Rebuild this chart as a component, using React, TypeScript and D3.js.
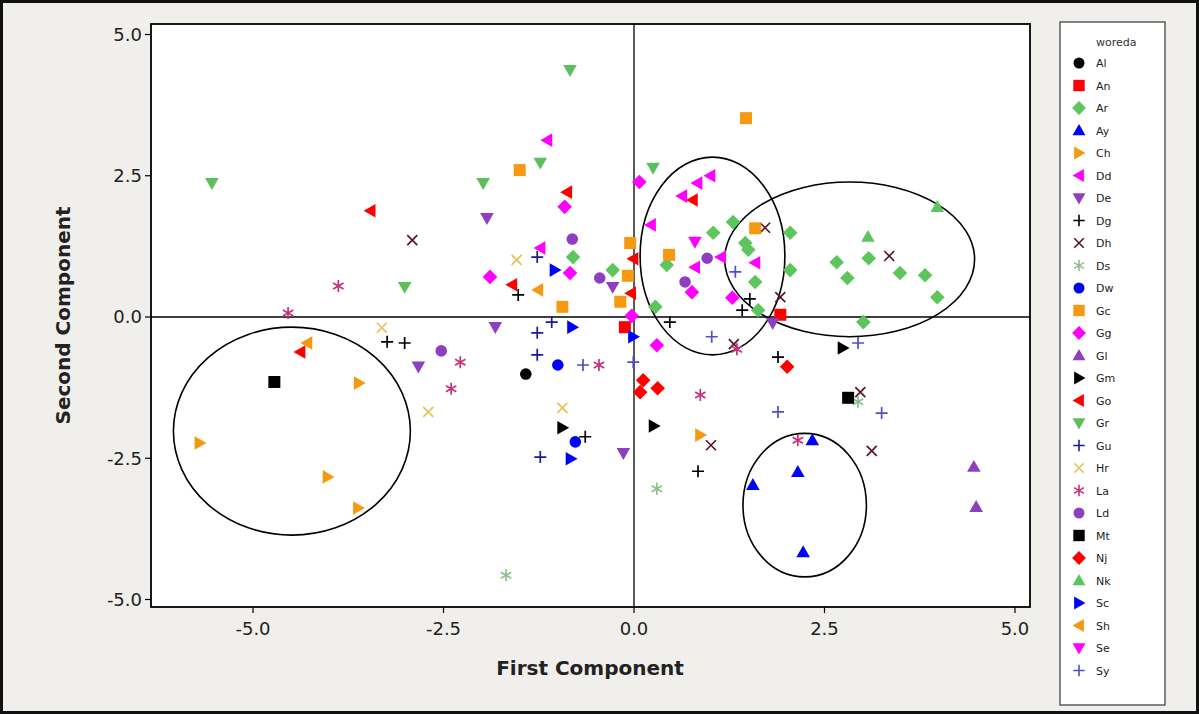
import React from "react";
import * as d3 from "d3";

// ---- data (First Component, Second Component) ----
const Al = [[-1.42, -1.01]];
const An = [[1.92, 0.04], [-0.12, -0.18]];
const Ar = [[1.04, 1.49], [1.30, 1.68], [1.46, 1.31], [1.50, 1.19], [2.05, 1.49], [2.05, 0.83], [1.59, 0.62], [1.63, 0.12], [2.66, 0.97], [3.08, 1.04], [2.80, 0.69], [3.49, 0.78], [3.82, 0.74], [3.98, 0.35], [3.01, -0.09], [-0.80, 1.06], [-0.28, 0.83], [0.43, 0.92], [0.28, 0.18]];
const Ay = [[2.34, -2.18], [2.15, -2.74], [1.56, -2.97], [2.22, -4.16]];
const Ch = [[-3.61, -1.17], [-5.70, -2.23], [-4.02, -2.83], [-3.62, -3.38], [0.87, -2.09]];
const Dd = [[-1.14, 3.13], [-1.23, 1.22], [0.22, 1.63], [1.00, 2.50], [0.83, 2.37], [0.63, 2.14], [0.80, 0.88], [1.14, 1.06], [1.59, 0.96]];
const De = [[-1.93, 1.75], [-2.83, -0.88], [-1.82, -0.18], [-0.28, 0.53], [1.82, -0.11], [-0.14, -2.41]];
const Dg = [[-3.24, -0.44], [-3.01, -0.46], [-1.52, 0.39], [-0.64, -2.12], [0.84, -2.73], [1.52, 0.32], [1.42, 0.12], [1.89, -0.71], [0.47, -0.09]];
const Dh = [[-2.91, 1.36], [1.72, 1.58], [3.35, 1.08], [1.92, 0.35], [1.31, -0.48], [2.97, -1.33], [1.01, -2.27], [3.12, -2.37]];
const Ds = [[2.94, -1.50], [0.30, -3.04], [-1.68, -4.57]];
const Dw = [[-1.00, -0.85], [-0.77, -2.21]];
const Gc = [[-1.50, 2.60], [1.47, 3.52], [-0.05, 1.31], [-0.08, 0.73], [-0.18, 0.27], [-0.94, 0.18], [0.46, 1.10], [1.59, 1.57]];
const Gg = [[-0.91, 1.95], [0.07, 2.39], [-0.84, 0.78], [-1.89, 0.71], [-0.03, 0.02], [0.30, -0.50], [0.76, 0.44], [1.29, 0.34]];
const Gl = [[4.46, -2.65], [4.49, -3.36]];
const Gm = [[2.74, -0.55], [-0.94, -1.96], [0.26, -1.93]];
const Go = [[-3.46, 1.88], [-0.88, 2.21], [0.77, 2.07], [-1.60, 0.57], [-0.01, 1.03], [-0.04, 0.42], [-4.38, -0.62]];
const Gr = [[-5.54, 2.37], [-0.84, 4.37], [-1.23, 2.73], [-1.98, 2.37], [0.25, 2.64], [-3.01, 0.53]];
const Gu = [[-1.27, 1.06], [-1.08, -0.09], [-1.27, -0.28], [-1.27, -0.67], [-1.23, -2.48]];
const Hr = [[-3.31, -0.19], [-2.70, -1.68], [-1.54, 1.01], [-0.94, -1.61]];
const La = [[-3.88, 0.55], [-4.54, 0.07], [-2.28, -0.80], [-2.40, -1.27], [-0.46, -0.85], [0.87, -1.38], [1.35, -0.57], [2.15, -2.18]];
const Ld = [[-2.53, -0.60], [-0.81, 1.38], [-0.45, 0.69], [0.96, 1.04], [0.67, 0.62]];
const Mt = [[-4.72, -1.15], [2.81, -1.43]];
const Nj = [[0.12, -1.12], [0.08, -1.33], [0.31, -1.26], [2.01, -0.88]];
const Nk = [[3.07, 1.42], [3.98, 1.95]];
const Sc = [[-1.04, 0.83], [-0.81, -0.18], [-0.01, -0.35], [-0.83, -2.51]];
const Sh = [[-4.29, -0.46], [-1.26, 0.48]];
const Se = [[0.80, 1.33]];
const Sy = [[-0.67, -0.85], [-0.01, -0.80], [1.02, -0.35], [1.33, 0.80], [2.94, -0.46], [1.89, -1.68], [3.25, -1.70]];

const woredas = ["Al", "An", "Ar", "Ay", "Ch", "Dd", "De", "Dg", "Dh", "Ds", "Dw", "Gc", "Gg", "Gl", "Gm", "Go", "Gr", "Gu", "Hr", "La", "Ld", "Mt", "Nj", "Nk", "Sc", "Sh", "Se", "Sy"];
const values: Record<string, number[][]> = { Al, An, Ar, Ay, Ch, Dd, De, Dg, Dh, Ds, Dw, Gc, Gg, Gl, Gm, Go, Gr, Gu, Hr, La, Ld, Mt, Nj, Nk, Sc, Sh, Se, Sy };

const xTicks = [-5, -2.5, 0, 2.5, 5];
const yTicks = [5, 2.5, 0, -2.5, -5];

// group ellipses (centre and radii in component units)
const ellipses = [
  { cx: -4.49, cy: -2.02, rx: 1.555, ry: 1.84 },
  { cx: 1.03, cy: 1.08, rx: 0.95, ry: 1.75 },
  { cx: 2.83, cy: 1.02, rx: 1.64, ry: 1.37 },
  { cx: 2.24, cy: -3.33, rx: 0.81, ry: 1.27 },
];

// ---- styles ----
const style: Record<string, { shape: string; color: string }> = {
  Al: { shape: "circle", color: "#000000" },
  An: { shape: "square", color: "#ff0000" },
  Ar: { shape: "diamond", color: "#5cc65c" },
  Ay: { shape: "up", color: "#0000ff" },
  Ch: { shape: "right", color: "#f59a10" },
  Dd: { shape: "left", color: "#ff00ff" },
  De: { shape: "down", color: "#8e3fc0" },
  Dg: { shape: "plus", color: "#000000" },
  Dh: { shape: "x", color: "#5a1628" },
  Ds: { shape: "star", color: "#8fbf8f" },
  Dw: { shape: "circle", color: "#0000ff" },
  Gc: { shape: "square", color: "#f59a10" },
  Gg: { shape: "diamond", color: "#ff00ff" },
  Gl: { shape: "up", color: "#8e3fc0" },
  Gm: { shape: "right", color: "#000000" },
  Go: { shape: "left", color: "#ff0000" },
  Gr: { shape: "down", color: "#5cbf5c" },
  Gu: { shape: "plus", color: "#1a1a9a" },
  Hr: { shape: "x", color: "#e6c05a" },
  La: { shape: "star", color: "#c8307a" },
  Ld: { shape: "circle", color: "#8e3fc0" },
  Mt: { shape: "square", color: "#000000" },
  Nj: { shape: "diamond", color: "#ff0000" },
  Nk: { shape: "up", color: "#5cc65c" },
  Sc: { shape: "right", color: "#0000ff" },
  Sh: { shape: "left", color: "#f59a10" },
  Se: { shape: "down", color: "#ff00ff" },
  Sy: { shape: "plus", color: "#5050c0" },
};

const W = 1199, H = 714;
const plot = { left: 151, right: 1030, top: 24, bottom: 607 };
const FONT = "'DejaVu Sans', Verdana, sans-serif";
const fmt = (t: number) => d3.format(".1f")(t).replace("\u2212", "-");

function markerPath(shape: string, k = 1): string {
  const s = 6.8 * k;
  switch (shape) {
    case "circle": {
      const r = 5.8 * k;
      return `M${-r},0A${r},${r} 0 1,0 ${r},0A${r},${r} 0 1,0 ${-r},0Z`;
    }
    case "square": {
      const h = 6 * k;
      return `M${-h},${-h}H${h}V${h}H${-h}Z`;
    }
    case "diamond": {
      const h = 7.3 * k;
      return `M0,${-h}L${h},0L0,${h}L${-h},0Z`;
    }
    case "up":
      return `M0,${-s}L${s},${s * 0.75}L${-s},${s * 0.75}Z`;
    case "down":
      return `M0,${s}L${s},${-s * 0.75}L${-s},${-s * 0.75}Z`;
    case "right":
      return `M${s},0L${-s * 0.75},${-s}L${-s * 0.75},${s}Z`;
    case "left":
      return `M${-s},0L${s * 0.75},${-s}L${s * 0.75},${s}Z`;
    case "plus": {
      const h = 6 * k;
      return `M${-h},0H${h}M0,${-h}V${h}`;
    }
    case "x": {
      const h = 5 * k;
      return `M${-h},${-h}L${h},${h}M${-h},${h}L${h},${-h}`;
    }
    case "star": {
      const h = 6 * k;
      const a = h * Math.cos(Math.PI / 6), b = h * Math.sin(Math.PI / 6);
      return `M0,${-h}V${h}M${-a},${-b}L${a},${b}M${-a},${b}L${a},${-b}`;
    }
  }
  return "";
}
const stroked = (shape: string) => shape === "plus" || shape === "x" || shape === "star";

export default function App() {
  const x = d3.scaleLinear().domain([-6.339, 5.197]).range([plot.left, plot.right]);
  const y = d3.scaleLinear().domain([-5.133, 5.186]).range([plot.bottom, plot.top]);
  const ux = x(1) - x(0);
  const uy = y(0) - y(1);

  return (
    <svg width={W} height={H} style={{ position: "absolute", left: 0, top: 0 }} fontFamily={FONT}>
      <rect x={0} y={0} width={W} height={H} fill="#f1efeb" />
      <rect x={1.5} y={1.5} width={W - 3} height={H - 3} fill="none" stroke="#111" strokeWidth={3} />
      <rect x={plot.left} y={plot.top} width={plot.right - plot.left} height={plot.bottom - plot.top} fill="#ffffff" />

      {/* reference lines */}
      <line x1={x(0)} x2={x(0)} y1={plot.top} y2={plot.bottom} stroke="#000" strokeWidth={1.3} />
      <line x1={plot.left} x2={plot.right} y1={y(0)} y2={y(0)} stroke="#000" strokeWidth={1.3} />

      {/* ellipses */}
      {ellipses.map((e, i) => (
        <ellipse key={i} cx={x(e.cx)} cy={y(e.cy)} rx={e.rx * ux} ry={e.ry * uy} fill="none" stroke="#000" strokeWidth={1.6} />
      ))}

      {/* points */}
      {woredas.map((w) =>
        values[w].map((p, i) => {
          const st = style[w];
          const sk = stroked(st.shape);
          return (
            <path
              key={w + i}
              d={markerPath(st.shape)}
              transform={`translate(${x(p[0])},${y(p[1])})`}
              fill={sk ? "none" : st.color}
              stroke={sk ? st.color : "none"}
              strokeWidth={sk ? 1.7 : 0}
            />
          );
        })
      )}

      {/* frame */}
      <rect x={plot.left} y={plot.top} width={plot.right - plot.left} height={plot.bottom - plot.top} fill="none" stroke="#000" strokeWidth={1.8} />

      {/* x axis ticks */}
      {xTicks.map((t) => (
        <g key={"x" + t}>
          <line x1={x(t)} x2={x(t)} y1={plot.bottom} y2={plot.bottom + 6} stroke="#000" strokeWidth={1.2} />
          <text x={x(t)} y={plot.bottom + 28} textAnchor="middle" fontSize={18} fill="#222">
            {fmt(t)}
          </text>
        </g>
      ))}
      {/* y axis ticks */}
      {yTicks.map((t) => (
        <g key={"y" + t}>
          <line x1={plot.left - 6} x2={plot.left} y1={y(t)} y2={y(t)} stroke="#000" strokeWidth={1.2} />
          <text x={plot.left - 9} y={y(t) + 6.5} textAnchor="end" fontSize={18} fill="#222">
            {fmt(t)}
          </text>
        </g>
      ))}

      <text x={590} y={675} textAnchor="middle" fontSize={20} fontWeight="bold" fill="#222">First Component</text>
      <text transform={`translate(70,${(plot.top + plot.bottom) / 2}) rotate(-90)`} textAnchor="middle" fontSize={20} fontWeight="bold" fill="#222">
        Second Component
      </text>

      {/* legend */}
      <rect x={1060} y={22} width={105} height={683} fill="#ffffff" stroke="#444" strokeWidth={1.3} />
      <text x={1096} y={46} fontSize={11} fill="#333">woreda</text>
      {woredas.map((w, i) => {
        const st = style[w];
        const sk = stroked(st.shape);
        const cy = 63 + i * 22.5;
        return (
          <g key={"lg" + w}>
            <path
              d={markerPath(st.shape, 0.95)}
              transform={`translate(1079,${cy})`}
              fill={sk ? "none" : st.color}
              stroke={sk ? st.color : "none"}
              strokeWidth={sk ? 1.6 : 0}
            />
            <text x={1096} y={cy + 4} fontSize={11} fill="#222">{w}</text>
          </g>
        );
      })}
    </svg>
  );
}
